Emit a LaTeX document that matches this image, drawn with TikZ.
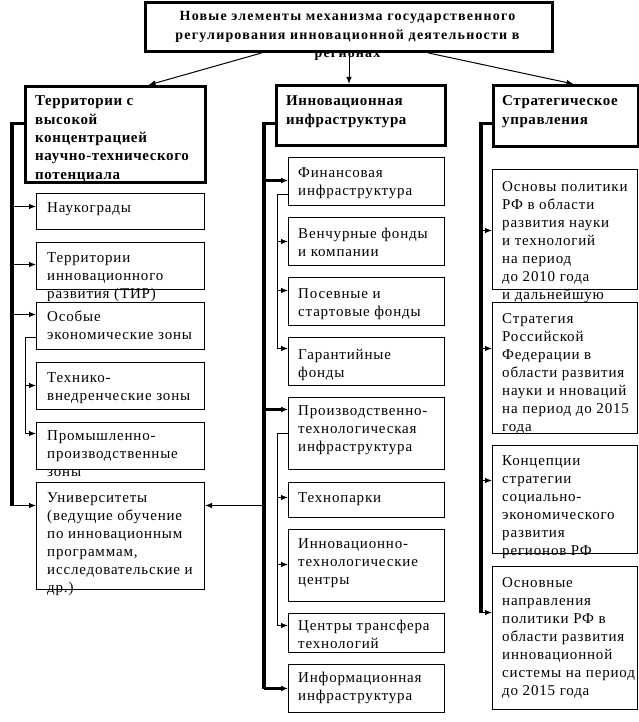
\documentclass[tikz,border=0pt]{standalone}
\usepackage{fontspec}
\setmainfont{Liberation Serif}
\newfontfamily\rfam[LetterSpace=5.5]{Liberation Serif}
\newfontfamily\hfam[LetterSpace=4]{Liberation Serif}
\newfontfamily\tfam[LetterSpace=8.5]{Liberation Serif}
\usetikzlibrary{arrows.meta,calc}
\newcommand\mlines[1]{\begin{tabular}[t]{@{}l@{}}#1\end{tabular}}
\newcommand\mcent[1]{\begin{tabular}[t]{@{}c@{}}#1\end{tabular}}
\tikzset{
  box/.style={draw, line width=1pt, inner sep=0pt, anchor=north west},
  hbox/.style={draw, line width=3pt, inner sep=0pt, anchor=north west},
  txt/.style={anchor=base west, inner sep=0pt, font=\rfam\fontsize{15}{18}\selectfont},
  htxt/.style={anchor=base west, inner sep=0pt, font=\hfam\bfseries\fontsize{15}{18.3}\selectfont},
  ttxt/.style={anchor=base, inner sep=0pt, font=\tfam\bfseries\fontsize{14}{18.5}\selectfont},
  arr/.style={line width=1pt, -{Latex[length=7pt,width=5.5pt]}},
  tarr/.style={line width=3.5pt, -{Latex[length=7pt,width=6pt]}},
  thinl/.style={line width=1pt},
  trunk/.style={line width=3.5pt},
}
\begin{document}
\begin{tikzpicture}[x=1pt,y=-1pt]
\path[fill=white] (0,0) rectangle (638,722);
\useasboundingbox (0,0) rectangle (638,722);

% title
\node[hbox, minimum width=407pt, minimum height=49pt] (title) at (144,1) {};
\node[ttxt] (t-title) at (347.5,21) {\mcent{Новые элементы механизма государственного\\регулирования инновационной деятельности в\\регионах}};

% headers
\node[hbox, minimum width=180pt, minimum height=96pt] (lh) at (24,85) {};
\node[htxt] (t-lh) at (35,106) {\mlines{Территории с\\высокой\\концентрацией\\научно-технического\\потенциала}};
\node[hbox, minimum width=169pt, minimum height=60pt] (mh) at (275,84) {};
\node[htxt] (t-mh) at (286,106) {\mlines{Инновационная\\инфраструктура}};
\node[hbox, minimum width=145pt, minimum height=61pt] (rh) at (492,84) {};
\node[htxt] (t-rh) at (502,106) {\mlines{Стратегическое\\управления}};

% left column
\node[box, minimum width=168pt, minimum height=36pt] (nauk) at (36,193) {};
\node[txt] (t-nauk) at (47,212) {Наукограды};
\node[box, minimum width=168pt, minimum height=47pt] (tir) at (36,242) {};
\node[txt] (t-tir) at (47,262) {\mlines{Территории\\инновационного\\развития (ТИР)}};
\node[box, minimum width=168pt, minimum height=47pt] (oez) at (36,302) {};
\node[txt] (t-oez) at (47,321) {\mlines{Особые\\экономические зоны}};
\node[box, minimum width=168pt, minimum height=47pt] (tvz) at (36,362) {};
\node[txt] (t-tvz) at (47,382) {\mlines{Технико-\\внедренческие зоны}};
\node[box, minimum width=168pt, minimum height=47pt] (ppz) at (36,422) {};
\node[txt] (t-ppz) at (47,440) {\mlines{Промышленно-\\производственные\\зоны}};
\node[box, minimum width=168pt, minimum height=107pt] (univ) at (36,482) {};
\node[txt] (t-univ) at (47,502) {\mlines{Университеты\\(ведущие обучение\\по инновационным\\программам,\\исследовательские~и\\др.)}};

% middle column
\node[box, minimum width=156pt, minimum height=48pt] (fin) at (288,157) {};
\node[txt] (t-fin) at (298,178) {\mlines{Финансовая\\инфраструктура}};
\node[box, minimum width=156pt, minimum height=48pt] (ven) at (288,217) {};
\node[txt] (t-ven) at (298,238) {\mlines{Венчурные фонды\\и компании}};
\node[box, minimum width=156pt, minimum height=48pt] (pos) at (288,277) {};
\node[txt] (t-pos) at (298,298) {\mlines{Посевные и\\стартовые фонды}};
\node[box, minimum width=156pt, minimum height=48pt] (gar) at (288,337) {};
\node[txt] (t-gar) at (298,359) {\mlines{Гарантийные\\фонды}};
\node[box, minimum width=156pt, minimum height=72pt] (prt) at (288,397) {};
\node[txt] (t-prt) at (298,415) {\mlines{Производственно-\\технологическая\\инфраструктура}};
\node[box, minimum width=156pt, minimum height=35pt] (tpk) at (288,482) {};
\node[txt] (t-tpk) at (298,502) {Технопарки};
\node[box, minimum width=156pt, minimum height=72pt] (itc) at (288,529) {};
\node[txt] (t-itc) at (298,548) {\mlines{Инновационно-\\технологические\\центры}};
\node[box, minimum width=156pt, minimum height=39pt] (ctt) at (288,613) {};
\node[txt] (t-ctt) at (298,630) {\mlines{Центры трансфера\\технологий}};
\node[box, minimum width=156pt, minimum height=48pt] (inf) at (288,664) {};
\node[txt] (t-inf) at (298,682) {\mlines{Информационная\\инфраструктура}};

% right column
\node[box, minimum width=145pt, minimum height=120pt] (osn) at (492,169) {};
\node[txt] (t-osn) at (502,191) {\mlines{Основы политики\\РФ в области\\развития науки\\и технологий\\на период\\до 2010 года\\и дальнейшую}};
\node[box, minimum width=145pt, minimum height=131pt] (str) at (492,302) {};
\node[txt] (t-str) at (502,323) {\mlines{Стратегия\\Российской\\Федерации в\\области развития\\науки и нноваций\\на период до 2015\\года}};
\node[box, minimum width=145pt, minimum height=108pt] (kon) at (492,445) {};
\node[txt] (t-kon) at (502,465) {\mlines{Концепции\\стратегии\\социально-\\экономического\\развития\\регионов РФ}};
\node[box, minimum width=145pt, minimum height=143pt] (onp) at (492,566) {};
\node[txt] (t-onp) at (502,587) {\mlines{Основные\\направления\\политики РФ в\\области развития\\инновационной\\системы на период\\до 2015 года}};

% title arrows
\draw[arr] ([xshift=-87.5pt]title.south) -- ([xshift=33pt]lh.north);
\draw[arr] (title.south) -- (title.south |- mh.north);
\draw[arr] ([xshift=79.5pt]title.south) -- ([xshift=7.5pt]rh.north);

% trunk x positions
\coordinate (lt) at (12,0);
\coordinate (ls) at (25,0);
\coordinate (mt) at (264,0);
\coordinate (ms) at (277,0);
\coordinate (rt) at (481,0);

% left
\coordinate (a-nauk) at ([yshift=5pt]nauk.west);
\coordinate (a-tir) at ([yshift=1.5pt]tir.west);
\coordinate (a-oez) at ([yshift=11.5pt]oez.west);
\coordinate (a-univ) at ([yshift=30.5pt]univ.west);
\coordinate (a-univE) at ([yshift=30.5pt]univ.east);
\coordinate (a-tvz) at ([yshift=0.5pt]tvz.west);
\coordinate (a-ppz) at ([yshift=12.5pt]ppz.west);
\draw[trunk] ([yshift=11pt]lh.west) -| (lt |- a-univ);
\draw[arr] (lt |- a-nauk) -- (a-nauk);
\draw[arr] (lt |- a-tir) -- (a-tir);
\draw[arr] (lt |- a-oez) -- (a-oez);
\draw[arr] (lt |- a-univ) -- (a-univ);
\draw[thinl] ([yshift=-11.5pt]oez.west) -| (ls |- a-ppz);
\draw[arr] (ls |- a-tvz) -- (a-tvz);
\draw[arr] (ls |- a-ppz) -- (a-ppz);

% middle
\coordinate (a-fin) at ([yshift=1pt]fin.west);
\coordinate (a-prt) at ([yshift=24pt]prt.west);
\coordinate (a-inf) at (inf.west);
\coordinate (a-ven) at (ven.west);
\coordinate (a-pos) at ([yshift=11pt]pos.west);
\coordinate (a-gar) at ([yshift=13pt]gar.west);
\coordinate (a-tpk) at ([yshift=2.5pt]tpk.west);
\coordinate (a-itc) at ([yshift=1pt]itc.west);
\coordinate (a-ctt) at ([yshift=7.5pt]ctt.west);
\draw[trunk] ([yshift=-8pt]mh.west) -| (mt |- a-inf);
\draw[tarr] (mt |- a-fin) -- (a-fin);
\draw[tarr] (mt |- a-prt) -- (a-prt);
\draw[tarr] (mt |- a-inf) -- (a-inf);
\draw[thinl] ([yshift=-13pt]fin.west) -| (ms |- a-gar);
\draw[arr] (ms |- a-ven) -- (a-ven);
\draw[arr] (ms |- a-pos) -- (a-pos);
\draw[arr] (ms |- a-gar) -- (a-gar);
\draw[thinl] (prt.west) -| (ms |- a-ctt);
\draw[arr] (ms |- a-tpk) -- (a-tpk);
\draw[arr] (ms |- a-itc) -- (a-itc);
\draw[arr] (ms |- a-ctt) -- (a-ctt);
\draw[arr] (mt |- a-univE) -- (a-univE);

% right
\coordinate (a-osn) at ([yshift=-1pt]osn.west);
\coordinate (a-str) at ([yshift=19.5pt]str.west);
\coordinate (a-kon) at ([yshift=19pt]kon.west);
\coordinate (a-onp) at ([yshift=25.5pt]onp.west);
\draw[trunk] ([yshift=-7.5pt]rh.west) -| (rt |- a-onp);
\draw[arr] (rt |- a-osn) -- (a-osn);
\draw[arr] (rt |- a-str) -- (a-str);
\draw[arr] (rt |- a-kon) -- (a-kon);
\draw[arr] (rt |- a-onp) -- (a-onp);
\end{tikzpicture}
\end{document}
